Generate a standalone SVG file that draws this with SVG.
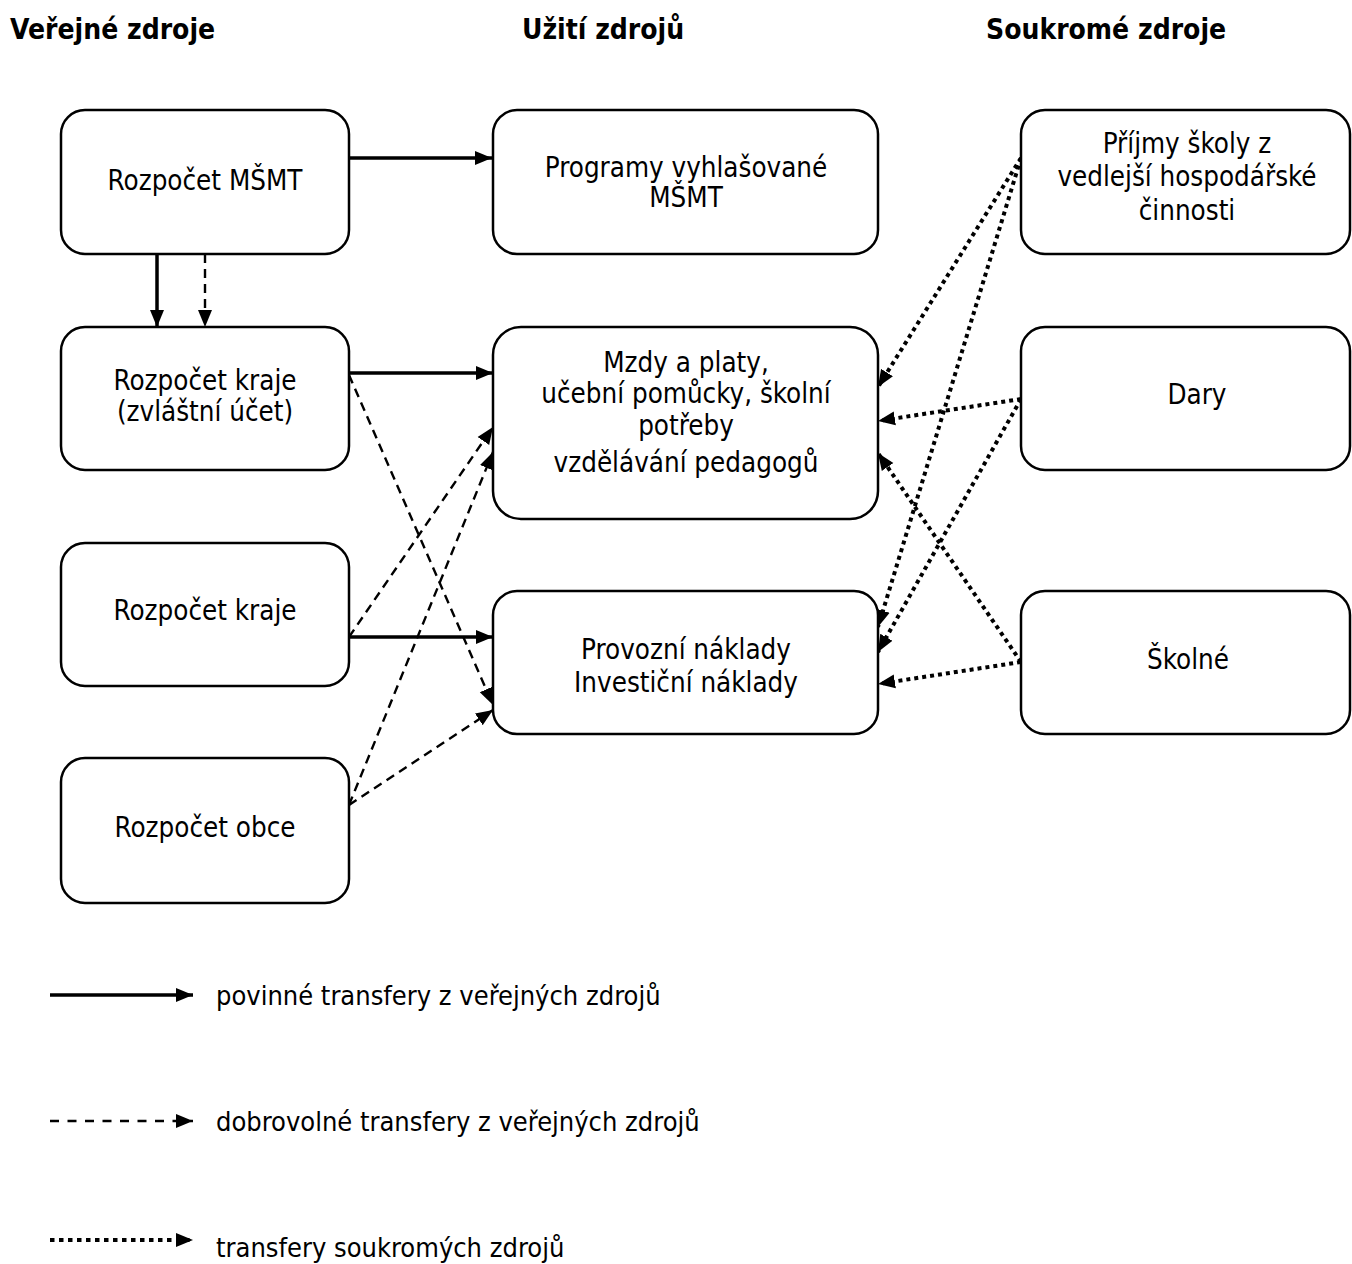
<svg xmlns="http://www.w3.org/2000/svg" width="1352" height="1264" viewBox="0 0 1352 1264">
<style>
.box{fill:#fff;stroke:#000;stroke-width:2.5}
text{font-family:"DejaVu Sans Condensed","DejaVu Sans",sans-serif;font-stretch:condensed;font-size:27.5px;fill:#000}
.c{text-anchor:middle}
.h{font-weight:bold;font-size:28px}
.lg{font-size:27px}
.solid{stroke:#000;stroke-width:3.5;fill:none;marker-end:url(#ah)}
.dash{stroke:#000;stroke-width:2.4;fill:none;stroke-dasharray:9 6;marker-end:url(#ah)}
.dot{stroke:#000;stroke-width:4;fill:none;stroke-dasharray:4 4;marker-end:url(#ah)}
</style>
<defs>
<marker id="ah" markerUnits="userSpaceOnUse" markerWidth="18" markerHeight="16" viewBox="0 0 18 16" refX="17" refY="8" orient="auto">
<path d="M0,1 L17,8 L0,15 Z" fill="#000"/>
</marker>
</defs>
<rect width="1352" height="1264" fill="#fff"/>
<g id="headers">
<text class="h" x="10" y="39">Veřejné zdroje</text>
<text class="h" x="522" y="39">Užití zdrojů</text>
<text class="h" x="986" y="39">Soukromé zdroje</text>
</g>
<g id="connectors">
<line class="solid" x1="349" y1="158" x2="492" y2="158"/>
<line class="solid" x1="157" y1="254" x2="157" y2="327"/>
<line class="dash" x1="205" y1="254" x2="205" y2="327"/>
<line class="solid" x1="349" y1="373" x2="493" y2="373"/>
<line class="dash" x1="349" y1="375" x2="493" y2="705"/>
<line class="dash" x1="349" y1="637" x2="493" y2="427"/>
<line class="solid" x1="349" y1="637" x2="493" y2="637"/>
<line class="dash" x1="349" y1="805" x2="493" y2="452"/>
<line class="dash" x1="349" y1="805" x2="493" y2="710"/>
<line class="dot" x1="1021" y1="158" x2="878" y2="387"/>
<line class="dot" x1="1021" y1="158" x2="878" y2="627"/>
<line class="dot" x1="1021" y1="399" x2="878" y2="421"/>
<line class="dot" x1="1021" y1="399" x2="878" y2="652"/>
<line class="dot" x1="1021" y1="662" x2="878" y2="453"/>
<line class="dot" x1="1021" y1="662" x2="878" y2="684"/>
</g>
<g id="n-msmt"><rect class="box" x="61" y="110" width="288" height="144" rx="24"/><text class="c" x="205" y="190">Rozpočet MŠMT</text></g>
<g id="n-programy"><rect class="box" x="493" y="110" width="385" height="144" rx="24"/><text class="c" x="686" y="177">Programy vyhlašované</text><text class="c" x="686" y="207">MŠMT</text></g>
<g id="n-kraj-zu"><rect class="box" x="61" y="327" width="288" height="143" rx="24"/><text class="c" x="205" y="390">Rozpočet kraje</text><text class="c" x="205" y="421">(zvláštní účet)</text></g>
<g id="n-mzdy"><rect class="box" x="493" y="327" width="385" height="192" rx="28"/><text class="c" x="686" y="372">Mzdy a platy,</text><text class="c" x="686" y="403">učební pomůcky, školní</text><text class="c" x="686" y="435">potřeby</text><text class="c" x="686" y="472">vzdělávání pedagogů</text></g>
<g id="n-kraj"><rect class="box" x="61" y="543" width="288" height="143" rx="24"/><text class="c" x="205" y="620">Rozpočet kraje</text></g>
<g id="n-provoz"><rect class="box" x="493" y="591" width="385" height="143" rx="24"/><text class="c" x="686" y="659">Provozní náklady</text><text class="c" x="686" y="692">Investiční náklady</text></g>
<g id="n-obce"><rect class="box" x="61" y="758" width="288" height="145" rx="24"/><text class="c" x="205" y="837">Rozpočet obce</text></g>
<g id="n-prijmy"><rect class="box" x="1021" y="110" width="329" height="144" rx="24"/><text class="c" x="1187" y="153">Příjmy školy z</text><text class="c" x="1187" y="186">vedlejší hospodářské</text><text class="c" x="1187" y="220">činnosti</text></g>
<g id="n-dary"><rect class="box" x="1021" y="327" width="329" height="143" rx="24"/><text class="c" x="1197" y="404">Dary</text></g>
<g id="n-skolne"><rect class="box" x="1021" y="591" width="329" height="143" rx="24"/><text class="c" x="1188" y="669">Školné</text></g>
<g id="legend">
<line class="solid" x1="50" y1="995" x2="193" y2="995"/>
<text class="lg" x="216" y="1005">povinné transfery z veřejných zdrojů</text>
<line class="dash" x1="50" y1="1121" x2="193" y2="1121" style="stroke-dasharray:9 8.5"/>
<text class="lg" x="216" y="1131">dobrovolné transfery z veřejných zdrojů</text>
<line class="dot" x1="50" y1="1240" x2="193" y2="1240" style="stroke-dasharray:4.5 4.5"/>
<text class="lg" x="216" y="1257">transfery soukromých zdrojů</text>
</g>
</svg>
